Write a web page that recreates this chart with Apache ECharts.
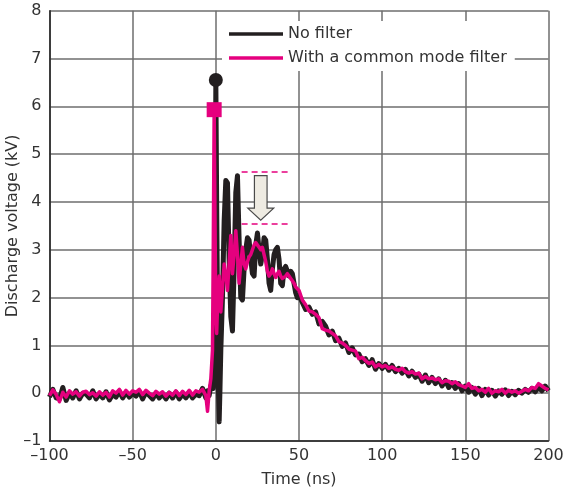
<!DOCTYPE html>
<html><head><meta charset="utf-8">
<script src="https://cdn.jsdelivr.net/npm/echarts@6/dist/echarts.min.js"></script>
<style>html,body{margin:0;padding:0;background:#fff}#c{width:565px;height:495px}</style>
</head><body><div id="c"></div>
<script>
// Time axis samples (ns)
var timeNs = [
-100,-98,-96,-94,-92,-90,-88,-86,-84,-82,
-80,-78,-76,-74,-72,-70,-68,-66,-64,-62,
-60,-58,-56,-54,-52,-50,-48,-46,-44,-42,
-40,-38,-36,-34,-32,-30,-28,-26,-24,-22,
-20,-18,-16,-14,-12,-10,-8,
-7,-6,-5,-4,-3,-2,-1.5,-1,-0.5,0,0.5,1,1.5,2,2.5,3,
4,5,6,7,8,9,10,11,12,13,
14,15,16,17,18,19,20,21,22,23,
24,25,26,27,28,29,30,31,32,33,
34,35,36,37,38,39,40,41,42,43,
44,45,46,47,48,49,50,
52,54,56,58,60,62,64,66,68,70,
72,74,76,78,80,82,84,86,88,90,
92,94,96,98,100,102,104,106,108,110,
112,114,116,118,120,122,124,126,128,130,
132,134,136,138,140,142,144,146,148,150,
152,154,156,158,160,162,164,166,168,170,
172,174,176,178,180,182,184,186,188,190,
192,194,196,198,200
];
// Discharge voltage (kV), no filter
var noFilter = [
-0.08,0.08,-0.10,-0.12,0.12,-0.15,0.00,-0.10,0.05,-0.12,
0.00,-0.02,-0.10,0.05,-0.12,-0.02,-0.10,0.03,-0.14,-0.02,
-0.08,0.04,-0.10,0.02,-0.08,0.00,-0.06,0.04,-0.12,0.02,
-0.05,-0.12,0.00,-0.10,-0.02,-0.12,0.00,-0.10,0.02,-0.12,
-0.02,-0.10,0.02,-0.10,-0.02,-0.05,0.10,
0.00,-0.10,0.05,-0.05,0.15,0.25,0.10,0.40,1.80,6.55,4.00,1.80,0.20,-0.60,0.10,0.90,
2.0,3.6,4.45,4.4,2.8,1.6,1.3,2.6,4.2,4.55,
3.2,2.0,1.95,2.6,3.0,3.25,3.2,2.8,2.5,2.45,
3.1,3.35,3.0,2.7,2.9,3.25,3.2,2.8,2.3,2.15,
2.6,2.9,3.0,3.05,2.8,2.3,2.25,2.6,2.65,2.55,
2.45,2.55,2.5,2.3,2.1,2.0,2.05,
1.90,1.75,1.80,1.65,1.70,1.45,1.50,1.40,1.22,1.30,
1.10,1.15,0.98,1.05,0.85,0.95,0.80,0.82,0.66,0.72,
0.58,0.70,0.50,0.62,0.52,0.60,0.48,0.58,0.45,0.52,
0.42,0.50,0.36,0.46,0.33,0.40,0.25,0.38,0.22,0.33,
0.20,0.30,0.15,0.27,0.12,0.22,0.10,0.20,0.05,0.15,
0.02,0.12,-0.02,0.10,-0.05,0.08,-0.04,0.06,-0.06,0.05,
-0.02,0.07,-0.05,0.04,-0.03,0.06,0.00,0.08,0.02,0.10,
0.03,0.12,0.05,0.15,0.05
];
// Discharge voltage (kV), with a common mode filter
var withFilter = [
-0.05,0.07,-0.03,-0.18,0.02,-0.08,0.05,-0.02,0.03,-0.06,
0.02,0.04,-0.03,0.01,-0.06,0.03,-0.04,0.02,-0.08,0.05,
0.00,0.08,-0.04,0.06,-0.02,0.05,0.02,0.08,-0.03,0.06,
0.00,-0.05,0.04,-0.02,0.03,-0.06,0.02,-0.04,0.05,-0.05,
0.04,-0.03,0.06,-0.04,0.05,0.02,0.08,
0.08,-0.05,-0.38,0.05,0.30,0.90,3.20,5.93,3.60,1.60,1.25,1.80,2.20,2.45,2.10,1.70,
2.2,2.7,2.5,2.15,2.7,3.3,2.5,2.9,3.4,2.9,
2.3,2.7,3.05,2.7,2.6,2.75,2.85,2.9,3.0,3.1,
3.15,3.1,3.05,3.0,3.05,2.9,2.75,2.55,2.45,2.5,
2.6,2.5,2.42,2.5,2.55,2.45,2.4,2.38,2.45,2.5,
2.45,2.4,2.35,2.3,2.22,2.2,2.15,
1.95,1.85,1.72,1.70,1.65,1.58,1.35,1.32,1.30,1.25,
1.20,1.08,1.05,1.00,0.92,0.90,0.88,0.72,0.75,0.68,
0.62,0.65,0.55,0.60,0.55,0.58,0.52,0.55,0.50,0.48,
0.52,0.45,0.42,0.45,0.40,0.42,0.30,0.35,0.30,0.32,
0.28,0.30,0.22,0.26,0.25,0.20,0.24,0.18,0.15,0.12,
0.20,0.10,0.12,0.05,0.08,0.02,0.10,0.00,0.05,0.03,
0.08,0.00,0.06,0.02,0.05,0.00,0.04,0.08,0.05,0.12,
0.10,0.20,0.15,0.10,0.07
];
// Peak markers [time, kV]
var peakNoFilter = [0, 6.55];
var peakWithFilter = [-1, 5.93];
// Annotation: reduction of oscillation peak (kV levels) and span (ns)
var dashLevels = [4.63, 3.55];
var dashSpan = [15.5, 44.5];
var arrowSpec = {x: 27, top: 4.55, headTop: 3.87, tip: 3.62, shaftHalf: 3.8, headHalf: 7.8};

var xTicks = [-100, 200, 50];
var yTicks = [-1, 8, 1];
var seriesNames = ['No filter', 'With a common mode filter'];

function zip(t, v){ var out=[]; for (var i=0;i<Math.min(t.length,v.length);i++) out.push([t[i], v[i]]); return out; }
function minus(v){ return String(v).replace('-', '\u2013'); }

var BLACK = '#231f20', PINK = '#e5007e';
var FONT = 'DejaVu Sans';

var chart = echarts.init(document.getElementById('c'), null, {renderer:'canvas'});
chart.setOption({
  animation: false,
  textStyle: {fontFamily: FONT},
  grid: {left: 49.5, right: 16.5, top: 10.7, bottom: 54, containLabel: false, outerBoundsMode: 'none'},
  legend: {
    data: seriesNames,
    orient: 'vertical',
    left: 222, top: 21,
    padding: [5, 8, 5, 7],
    backgroundColor: '#fff',
    itemWidth: 54, itemHeight: 3.5, itemGap: 8,
    icon: 'rect',
    selectedMode: false,
    textStyle: {fontFamily: FONT, fontSize: 16, color: '#333', lineHeight: 16, padding: [0,0,0,0]}
  },
  xAxis: {
    type: 'value', min: xTicks[0], max: xTicks[1], interval: xTicks[2],
    name: 'Time (ns)', nameLocation: 'middle', nameGap: 31, nameMoveOverlap: false,
    nameTextStyle: {fontFamily: FONT, fontSize: 16, color: '#333'},
    axisLine: {show: true, onZero: false, lineStyle: {color: '#222', width: 1.5}},
    axisTick: {show: false},
    axisLabel: {fontFamily: FONT, fontSize: 16, color: '#333', margin: 7, formatter: minus},
    splitLine: {show: true, lineStyle: {color: '#6e6e6e', width: 1.5}}
  },
  yAxis: {
    type: 'value', min: yTicks[0], max: yTicks[1], interval: yTicks[2],
    name: 'Discharge voltage (kV)', nameLocation: 'middle', nameGap: 29, nameMoveOverlap: false,
    nameTextStyle: {fontFamily: FONT, fontSize: 16, color: '#333'},
    axisLine: {show: true, onZero: false, lineStyle: {color: '#222', width: 1.5}},
    axisTick: {show: false},
    axisLabel: {fontFamily: FONT, fontSize: 16, color: '#333', margin: 8, formatter: minus},
    splitLine: {show: true, lineStyle: {color: '#6e6e6e', width: 1.5}}
  },
  series: [
    {
      name: seriesNames[0], type: 'line', data: zip(timeNs, noFilter),
      symbol: 'none', color: BLACK, z: 2,
      lineStyle: {color: BLACK, width: 5, join: 'round'}
    },
    {
      name: seriesNames[1], type: 'line', data: zip(timeNs, withFilter),
      symbol: 'none', color: PINK, z: 3,
      lineStyle: {color: PINK, width: 3.5, join: 'round'},
      markLine: {
        silent: true, symbol: 'none', label: {show: false},
        lineStyle: {color: PINK, width: 1.5, type: [6, 4]},
        data: dashLevels.map(function(lv){ return [{coord: [dashSpan[0], lv]}, {coord: [dashSpan[1], lv]}]; })
      }
    },
    {
      type: 'scatter', data: [peakNoFilter], symbol: 'circle', symbolSize: 14, z: 4,
      itemStyle: {color: BLACK, opacity: 1}
    },
    {
      type: 'scatter', data: [peakWithFilter], symbol: 'rect', symbolSize: 15, z: 5,
      itemStyle: {color: PINK, opacity: 1}
    },
    {
      type: 'custom', z: 6, silent: true, clip: false,
      data: [[arrowSpec.x, arrowSpec.top]],
      renderItem: function(params, api){
        var a = arrowSpec;
        var pts = [
          [a.x - a.shaftHalf, a.top], [a.x + a.shaftHalf, a.top],
          [a.x + a.shaftHalf, a.headTop], [a.x + a.headHalf, a.headTop],
          [a.x, a.tip],
          [a.x - a.headHalf, a.headTop], [a.x - a.shaftHalf, a.headTop]
        ].map(function(p){ return api.coord(p); });
        return {type: 'polygon', shape: {points: pts},
          style: {fill: '#eeebe2', stroke: '#4a4a4a', lineWidth: 1.2}};
      }
    }
  ]
});
</script>
</body></html>
